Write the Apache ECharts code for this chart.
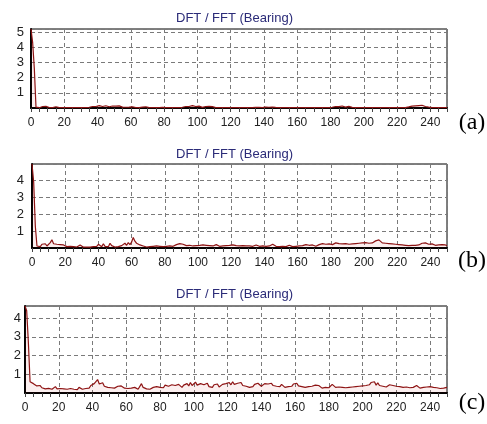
<!DOCTYPE html>
<html><head><meta charset="utf-8">
<script src="https://cdn.jsdelivr.net/npm/echarts@6/dist/echarts.min.js"></script>
<style>html,body{margin:0;padding:0;background:#fff}#c{width:487px;height:424px}</style>
</head><body><div id="c"></div>
<script>
const chartTitle = 'DFT / FFT (Bearing)';
const panelLabels = ['(a)', '(b)', '(c)'];
const freqStep = 1; // Hz per sample
const xTicks = [0, 20, 40, 60, 80, 100, 120, 140, 160, 180, 200, 220, 240];

const ampA = [
5.2,4.3,2.6,0.06,0.03,0.02,0.05,0.1,0.14,0.11,
0.06,0.03,0.02,0.03,0.06,0.08,0.04,0.02,0.02,0.03,
0.02,0.02,0.03,0.02,0.02,0.03,0.02,0.02,0.02,0.03,
0.02,0.02,0.03,0.03,0.04,0.05,0.08,0.1,0.12,0.1,
0.14,0.16,0.12,0.1,0.13,0.15,0.12,0.08,0.1,0.13,
0.15,0.12,0.1,0.14,0.11,0.06,0.04,0.05,0.03,0.06,
0.1,0.08,0.04,0.03,0.03,0.03,0.04,0.06,0.1,0.08,
0.03,0.02,0.02,0.03,0.02,0.02,0.03,0.02,0.03,0.04,
0.07,0.03,0.02,0.02,0.03,0.02,0.02,0.03,0.02,0.03,
0.04,0.05,0.08,0.1,0.12,0.1,0.14,0.16,0.13,0.1,
0.14,0.12,0.06,0.04,0.07,0.1,0.08,0.11,0.13,0.09,
0.04,0.03,0.02,0.02,0.03,0.02,0.02,0.03,0.02,0.02,
0.03,0.02,0.02,0.03,0.02,0.02,0.03,0.02,0.02,0.03,
0.02,0.02,0.03,0.02,0.03,0.04,0.03,0.05,0.04,0.03,
0.05,0.06,0.04,0.05,0.03,0.06,0.05,0.04,0.05,0.03,
0.04,0.03,0.02,0.03,0.02,0.02,0.03,0.02,0.02,0.03,
0.02,0.02,0.03,0.02,0.02,0.03,0.02,0.02,0.03,0.02,
0.02,0.03,0.02,0.02,0.03,0.02,0.02,0.03,0.02,0.03,
0.04,0.05,0.07,0.1,0.12,0.09,0.11,0.13,0.1,0.06,
0.08,0.11,0.07,0.04,0.03,0.02,0.03,0.02,0.02,0.03,
0.02,0.02,0.03,0.02,0.02,0.03,0.02,0.02,0.03,0.02,
0.02,0.03,0.02,0.02,0.03,0.02,0.02,0.03,0.02,0.02,
0.03,0.02,0.02,0.03,0.04,0.03,0.05,0.07,0.09,0.12,
0.1,0.14,0.12,0.16,0.13,0.18,0.15,0.1,0.12,0.06,
0.04,0.03,0.02,0.03,0.02,0.02,0.03,0.02,0.02,0.03,
0.02];

const ampB = [
4.95,3.9,1.3,0.12,0.05,0.08,0.22,0.28,0.25,0.12,
0.2,0.32,0.48,0.25,0.18,0.22,0.16,0.2,0.14,0.18,
0.12,0.08,0.06,0.1,0.05,0.08,0.12,0.06,0.1,0.18,
0.08,0.05,0.12,0.06,0.1,0.05,0.14,0.08,0.06,0.1,
0.22,0.12,0.08,0.25,0.1,0.12,0.08,0.28,0.14,0.1,
0.06,0.12,0.08,0.18,0.14,0.22,0.28,0.16,0.32,0.2,
0.35,0.62,0.4,0.28,0.38,0.18,0.22,0.12,0.08,0.06,
0.05,0.08,0.06,0.1,0.05,0.12,0.15,0.1,0.12,0.08,
0.14,0.1,0.16,0.12,0.18,0.1,0.14,0.2,0.12,0.26,
0.16,0.22,0.18,0.14,0.2,0.16,0.22,0.12,0.18,0.14,
0.2,0.15,0.12,0.18,0.14,0.16,0.1,0.14,0.18,0.12,
0.16,0.2,0.14,0.1,0.16,0.12,0.18,0.14,0.1,0.15,
0.12,0.18,0.1,0.14,0.16,0.12,0.08,0.14,0.1,0.12,
0.08,0.12,0.16,0.1,0.14,0.18,0.12,0.1,0.16,0.12,
0.18,0.1,0.14,0.12,0.16,0.22,0.14,0.1,0.12,0.08,
0.12,0.1,0.14,0.08,0.12,0.16,0.1,0.08,0.12,0.1,
0.08,0.12,0.1,0.14,0.12,0.2,0.12,0.16,0.1,0.18,
0.14,0.1,0.16,0.2,0.14,0.26,0.18,0.22,0.16,0.24,
0.28,0.2,0.24,0.3,0.22,0.26,0.32,0.24,0.2,0.26,
0.3,0.22,0.28,0.24,0.32,0.26,0.2,0.28,0.34,0.3,
0.26,0.32,0.36,0.28,0.34,0.3,0.38,0.42,0.36,0.48,
0.4,0.3,0.36,0.28,0.22,0.26,0.2,0.24,0.18,0.22,
0.16,0.2,0.14,0.18,0.12,0.16,0.2,0.14,0.18,0.16,
0.12,0.16,0.14,0.18,0.22,0.28,0.24,0.3,0.26,0.22,
0.28,0.24,0.2,0.16,0.22,0.18,0.14,0.2,0.16,0.18,
0.14];

const ampC = [
4.65,4.4,2.7,0.6,0.55,0.5,0.42,0.38,0.3,0.4,
0.28,0.35,0.22,0.32,0.25,0.3,0.2,0.26,0.34,0.22,
0.18,0.24,0.16,0.22,0.14,0.2,0.18,0.24,0.16,0.2,
0.26,0.18,0.3,0.22,0.2,0.28,0.24,0.32,0.26,0.4,
0.34,0.5,0.42,0.72,0.48,0.4,0.55,0.36,0.42,0.3,
0.38,0.28,0.34,0.26,0.3,0.36,0.46,0.38,0.3,0.26,
0.32,0.24,0.2,0.26,0.22,0.3,0.24,0.2,0.28,0.5,
0.3,0.24,0.22,0.28,0.2,0.26,0.3,0.22,0.34,0.26,
0.3,0.38,0.28,0.42,0.32,0.36,0.3,0.44,0.34,0.4,
0.3,0.46,0.36,0.3,0.42,0.34,0.5,0.38,0.56,0.4,
0.34,0.58,0.42,0.36,0.5,0.6,0.44,0.38,0.52,0.34,
0.4,0.3,0.44,0.36,0.48,0.32,0.4,0.46,0.38,0.5,
0.42,0.56,0.44,0.6,0.46,0.38,0.52,0.44,0.56,0.4,
0.48,0.36,0.44,0.3,0.4,0.34,0.46,0.38,0.52,0.42,
0.36,0.44,0.5,0.58,0.48,0.42,0.52,0.4,0.46,0.36,
0.42,0.34,0.46,0.38,0.3,0.4,0.34,0.44,0.36,0.48,
0.4,0.52,0.38,0.44,0.34,0.42,0.3,0.38,0.34,0.28,
0.36,0.3,0.42,0.34,0.4,0.3,0.26,0.34,0.3,0.38,
0.28,0.34,0.46,0.36,0.3,0.26,0.32,0.38,0.3,0.34,
0.28,0.36,0.3,0.26,0.32,0.28,0.34,0.3,0.36,0.42,
0.38,0.46,0.4,0.5,0.44,0.56,0.48,0.6,0.42,0.54,
0.4,0.46,0.36,0.42,0.32,0.38,0.44,0.34,0.4,0.3,
0.36,0.42,0.34,0.4,0.3,0.36,0.32,0.38,0.28,0.34,
0.3,0.36,0.4,0.32,0.26,0.34,0.3,0.24,0.32,0.28,
0.34,0.26,0.3,0.38,0.28,0.32,0.24,0.3,0.26,0.34,
0.3];

const yMaxes = [5.2, 4.95, 4.65];
const yLabelMax = [5, 4, 4];
const series = [ampA, ampB, ampC];

const panels = [
  {left: 31, top: 29, height: 79, titleTop: 7, labelY: 123, yMargin: 7},
  {left: 32, top: 164, height: 84, titleTop: 143, labelY: 261, yMargin: 8},
  {left: 25, top: 306, height: 87, titleTop: 283, labelY: 403, yMargin: 4}
];

const chart = echarts.init(document.getElementById('c'), null, {renderer: 'canvas'});
const font = 'Liberation Sans, Arial, sans-serif';
const opt = {
  animation: false,
  backgroundColor: '#fff',
  title: panels.map(p => ({
    text: chartTitle, left: 171, top: p.titleTop,
    textStyle: {fontSize: 13, fontWeight: 'normal', color: '#2b2b78', fontFamily: font}
  })),
  grid: panels.map(p => ({
    left: p.left, top: p.top, width: 447 - p.left, height: p.height,
    show: true, borderColor: '#000', borderWidth: 1, backgroundColor: '#fff'
  })),
  xAxis: panels.map((p, i) => ({
    type: 'value', gridIndex: i, min: 0, max: 250, interval: 20,
    axisLine: {show: true, onZero: false, lineStyle: {color: '#000', width: 2}},
    axisTick: {show: true, length: 4, lineStyle: {color: '#444'}},
    minorTick: {show: true, splitNumber: 4, length: 4, lineStyle: {color: '#444'}},
    splitLine: {show: true, lineStyle: {color: '#7a7a7a', type: [4, 3], width: 1}},
    axisLabel: {
      fontSize: 12, color: '#222', fontFamily: font, margin: 9,
      formatter: v => (xTicks.indexOf(v) >= 0 ? String(v) : '')
    }
  })),
  yAxis: panels.map((p, i) => ({
    type: 'value', gridIndex: i, min: 0, max: yMaxes[i], interval: 1,
    axisLine: {show: true, lineStyle: {color: '#000', width: 2}},
    axisTick: {show: false},
    splitLine: {show: true, lineStyle: {color: '#7a7a7a', type: [4, 3], width: 1}},
    axisLabel: {
      fontSize: 13, color: '#222', fontFamily: font, margin: p.yMargin,
      showMaxLabel: true,
      formatter: v => (v > 0 && v <= yLabelMax[i] && Math.abs(v - Math.round(v)) < 1e-6 ? String(Math.round(v)) : '')
    }
  })),
  series: series.map((arr, i) => ({
    type: 'line', xAxisIndex: i, yAxisIndex: i, symbol: 'none',
    data: arr.map((v, k) => [k * freqStep, v]),
    lineStyle: {color: '#8e1414', width: 1.2},
    areaStyle: {color: 'rgba(205,30,30,0.1)'},
    z: 3
  })),
  graphic: panels.map((p, i) => ({
    type: 'text', x: 472, y: p.labelY,
    style: {text: panelLabels[i], font: '24px "Liberation Serif", "Times New Roman", serif',
      fill: '#000', textAlign: 'center', textVerticalAlign: 'middle'}
  }))
};
chart.setOption(opt);
</script></body></html>
